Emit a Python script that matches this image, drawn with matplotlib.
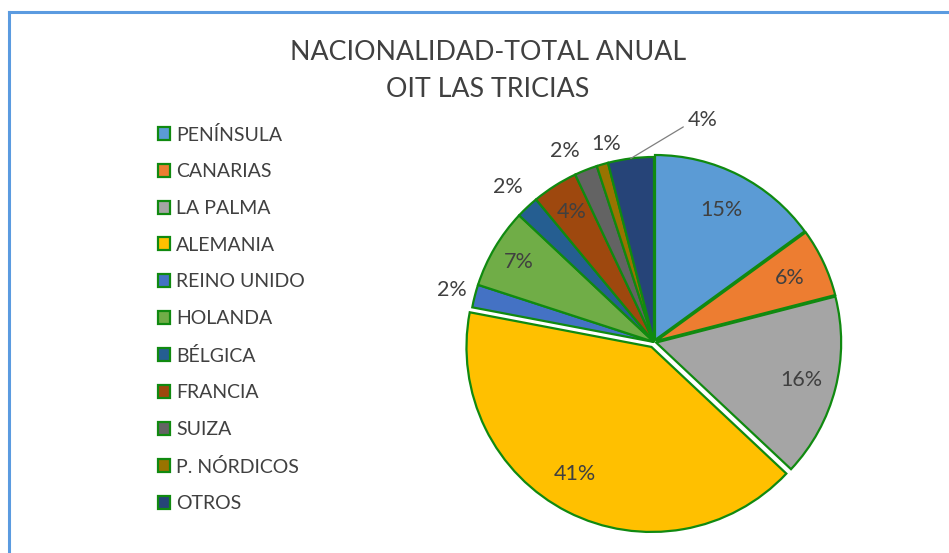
import matplotlib
matplotlib.use('Agg')
import matplotlib.pyplot as plt
from matplotlib.patches import Patch
from matplotlib.lines import Line2D
import numpy as np

# ========== DATA ==========
categories = ['PENÍNSULA', 'CANARIAS', 'LA PALMA', 'ALEMANIA', 'REINO UNIDO', 'HOLANDA',
              'BÉLGICA', 'FRANCIA', 'SUIZA', 'P. NÓRDICOS', 'OTROS']
shares = [15, 6, 16, 41, 2, 7, 2, 4, 2, 1, 4]
colors = ['#5B9BD5', '#ED7D31', '#A5A5A5', '#FFC000', '#4472C4', '#70AD47',
          '#255E91', '#9E480E', '#636363', '#997300', '#264478']
title_lines = ['NACIONALIDAD-TOTAL ANUAL', 'OIT LAS TRICIAS']

# ========== STYLE ==========
plt.rcParams['font.family'] = ['Lato', 'DejaVu Sans']
edge = '#108A10'
txt = '#404040'
explode = [0.012, 0.012, 0.012, 0.03, 0, 0, 0, 0, 0, 0, 0]
# label placement: radius factor and angle nudge (deg)
label_r = [0.80, 0.81, 0.82, 0.83, 1.13, 0.85, 1.15, 0.83, 1.14, 1.10, None]
label_da = [0, 0, 0, -4, 0, 0, 0, 0, 3.5, -2.5, 0]

W, H = 949, 553
fig = plt.figure(figsize=(W/100, H/100), dpi=100)

# chart frame (only left and top visible)
fig.add_artist(Line2D([9/W, 9/W], [0, 1-12/H], color='#5B9BE0', lw=2.2))
fig.add_artist(Line2D([9/W, 1], [1-12/H, 1-12/H], color='#5B9BE0', lw=2.2))

for i, t in enumerate(title_lines):
    fig.text(488/W, 1-(52+38*i)/H, t, ha='center', va='center', fontsize=19.3, color=txt)

# pie axes: center (654,342) px, radius 185 px
r_px = 185
lim = 1.3
side = 2*lim*r_px
ax = fig.add_axes([(654-side/2)/W, (H-342-side/2)/H, side/W, side/H])

wedges, _ = ax.pie(shares, colors=colors, startangle=90, counterclock=False,
                   explode=explode, radius=1,
                   wedgeprops=dict(edgecolor=edge, linewidth=1.6))
ax.set_xlim(-lim, lim)
ax.set_ylim(-lim, lim)
ax.axis('off')
for w in wedges:
    w.set_clip_on(False)

for i, (w, s) in enumerate(zip(wedges, shares)):
    ang = np.deg2rad((w.theta1 + w.theta2)/2 + label_da[i])
    if label_r[i] is None:
        # leader line for the last slice
        x0, y0 = np.cos(ang)*1.0, np.sin(ang)*1.0
        ax.annotate(f'{s}%', xy=(x0, y0), xytext=(0.18, 1.2), fontsize=15.5, color=txt,
                    ha='left', va='center', annotation_clip=False,
                    arrowprops=dict(arrowstyle='-', color='#7F7F7F', lw=0.9,
                                    connectionstyle='angle,angleA=0,angleB=31,rad=0',
                                    shrinkA=1, shrinkB=0))
        continue
    ax.text(np.cos(ang)*label_r[i], np.sin(ang)*label_r[i], f'{s}%', ha='center', va='center',
            fontsize=15.5, color=txt, clip_on=False)

handles = [Patch(facecolor=c, edgecolor=edge, linewidth=1.6) for c in colors]
fig.legend(handles, categories, loc='upper left', bbox_to_anchor=(150/W, 1-118/H),
           frameon=False, fontsize=14, labelcolor=txt, handlelength=0.65, handleheight=0.65,
           handletextpad=0.3, labelspacing=1.01, borderaxespad=0)

plt.savefig('out.png', dpi=100)
plt.close()
